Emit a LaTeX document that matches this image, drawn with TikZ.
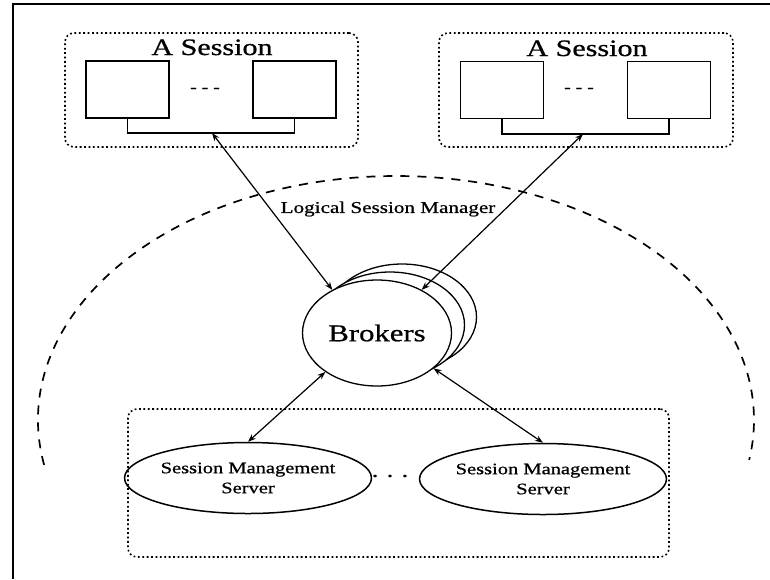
\documentclass[tikz,border=0pt]{standalone}
\usepackage{fontspec}
\setmainfont[FakeStretch=1.28,FakeBold=0.8]{Liberation Serif}
\usetikzlibrary{shapes.geometric,arrows.meta}
\begin{document}
\begin{tikzpicture}[x=1pt,y=-1pt,
  frameline/.style={line width=1.6pt},
  groupbox/.style={draw, rounded corners=9pt, line width=1.6pt,
    dash pattern=on 1.8pt off 2.6pt, inner sep=0pt},
  winbox/.style={draw, line width=1.5pt, minimum width=83pt,
    minimum height=57pt, inner sep=0pt},
  wire/.style={line width=1.5pt},
  titletext/.style={font=\fontsize{23.5}{28}\selectfont, inner sep=0pt},
  gaptext/.style={font=\fontsize{15.5}{18}\selectfont, inner sep=0pt},
  brokerball/.style={ellipse, draw, fill=white, line width=1.3pt,
    minimum width=149pt, minimum height=106pt, inner sep=0pt},
  serverball/.style={ellipse, draw, line width=1.5pt, minimum width=230pt,
    minimum height=71pt, inner sep=0pt, align=center,
    font=\fontsize{16}{20}\selectfont},
  link/.style={line width=1.2pt, {Stealth[length=8pt,width=6pt]}-{Stealth[length=8pt,width=6pt]}},
  arcline/.style={line width=1.7pt, dash pattern=on 9pt off 8pt}
]
\useasboundingbox (0,0) rectangle (770,579);

% page frame
\draw[frameline] (13,579) -- (13,4) -- (770,4);

% logical session manager boundary
\draw[arcline] (396,420) ++(169.4:358 and 244)
  arc[start angle=169.4, end angle=369.4, x radius=358, y radius=244];
\node[font=\fontsize{16.5}{20}\selectfont, inner sep=0pt] (lsm) at (388,209) {Logical Session Manager};

% left session
\node[groupbox, minimum width=293pt, minimum height=114pt] (s1) at (211.5,90) {};
\node[titletext, anchor=base] (t1) at (212,55) {A Session};
\node[winbox] (w11) at (127.5,89.5) {};
\node[winbox] (w12) at (294.5,89.5) {};
\node[gaptext] (g1) at (205,90) {- - -};
\coordinate (j1) at (212,133);
\draw[wire] (w11.south) |- (j1) -| (w12.south);

% right session
\node[groupbox, minimum width=294pt, minimum height=114pt] (s2) at (586,90) {};
\node[titletext, anchor=base] (t2) at (587,56) {A Session};
\node[winbox] (w21) at (502,90) {};
\node[winbox] (w22) at (669,90) {};
\node[gaptext] (g2) at (579,90) {- - -};
\coordinate (j2) at (583,134);
\draw[wire] (w21.south) |- (j2) -| (w22.south);

% brokers, stacked
\node[brokerball] (brk3) at (402,317) {};
\node[brokerball] (brk2) at (390,325) {};
\node[brokerball, font=\fontsize{24}{28}\selectfont] (brk) at (377,333) {Brokers};

% session management servers
\node[groupbox, minimum width=541pt, minimum height=148pt] (srv) at (398.5,483) {};
\node[serverball] (m1) at (248,478) {Session Management\\Server};
\node[serverball] (m2) at (543,479) {Session Management\\Server};
\node[font=\fontsize{20}{24}\selectfont, inner sep=0pt] (dots) at (390,476) {. . .};

% connections
\draw[link] (j1) -- (brk.136);
\draw[link] (j2) -- (brk.44);
\draw[link] (brk.217) -- (m1.north);
\draw[link] (brk.328) -- (m2.north);
\end{tikzpicture}
\end{document}
